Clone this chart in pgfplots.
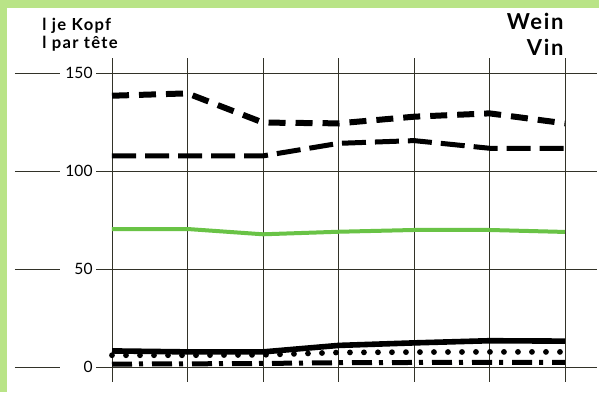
\documentclass[border=0pt]{standalone}
\usepackage{fontspec}
\setmainfont{Lato}
\newfontfamily\headfont[LetterSpace=8]{Lato}
\usepackage{pgfplots}
\pgfplotsset{compat=1.18}
\definecolor{bordergreen}{RGB}{185,228,135}
\definecolor{linegreen}{RGB}{105,195,70}
\definecolor{gridc}{RGB}{50,50,40}
\begin{document}
\begin{tikzpicture}
\fill[white] (-56pt,-12.5pt) rectangle (243.5pt,183.5pt);
\fill[bordergreen] (-56pt,-12.5pt) rectangle (-52.5pt,183.5pt);
\fill[bordergreen] (-56pt,179.5pt) rectangle (243.5pt,183.5pt);
\begin{axis}[
 at={(0,0)}, anchor=origin,
 scale only axis, x=37.75pt, y=0.98pt,
 xmin=-1.285, xmax=6.424, ymin=-7.65, ymax=157.65,
 axis line style={draw=none},
 major tick length=0pt,
 xtick={0,...,6}, xticklabels={},
 ytick={0,50,100,150},
 grid=major,
 major grid style={gridc, line width=0.45pt},
 yticklabel style={anchor=east, xshift=40.5pt, fill=white, text width=15pt, align=right, inner xsep=1.5pt, inner ysep=1pt, font=\fontsize{7.8}{9}\selectfont},
 /pgf/number format/assume math mode=true,
 clip=false,
]
\addplot[black, line width=3pt, dash pattern=on 8.5pt off 5pt] coordinates {(0,138.4)(1,139.6)(2,124.7)(3,124.3)(4,127.7)(5,129.4)(6,124.3)};
\addplot[black, line width=2.5pt, dash pattern=on 12pt off 4.5pt] coordinates {(0,107.7)(1,107.7)(2,107.7)(3,114.1)(4,115.5)(5,111.6)(6,111.5)};
\addplot[linegreen, line width=2pt] coordinates {(0,70.4)(1,70.4)(2,67.7)(3,69.0)(4,69.9)(5,69.9)(6,68.9)};
\addplot[black, line width=2.8pt] coordinates {(0,8.2)(1,7.7)(2,7.7)(3,11.0)(4,12.3)(5,13.4)(6,13.2)};
\addplot[black, line width=2.9pt, line cap=round, dash pattern=on 0pt off 7pt] coordinates {(0,6.0)(1,6.0)(2,6.2)(3,7.4)(4,7.6)(5,7.7)(6,7.7)};
\addplot[black, line width=2.5pt, dash pattern=on 10pt off 3.5pt on 2pt off 4.5pt] coordinates {(0,1.5)(1,1.6)(2,1.8)(3,2.2)(4,2.3)(5,2.4)(6,2.4)};
\end{axis}
\node[anchor=base west, inner sep=0pt, font=\headfont\bfseries\fontsize{8.3}{9}\selectfont] at (-35pt,168pt) {l je Kopf};
\node[anchor=base west, inner sep=0pt, font=\headfont\bfseries\fontsize{8.3}{9}\selectfont] at (-35pt,159pt) {l par tête};
\node[anchor=base east, inner sep=0pt, font=\headfont\bfseries\fontsize{11}{13}\selectfont] at (226pt,168.5pt) {Wein};
\node[anchor=base east, inner sep=0pt, font=\headfont\bfseries\fontsize{11}{13}\selectfont] at (226pt,155.5pt) {Vin};
\end{tikzpicture}
\end{document}
